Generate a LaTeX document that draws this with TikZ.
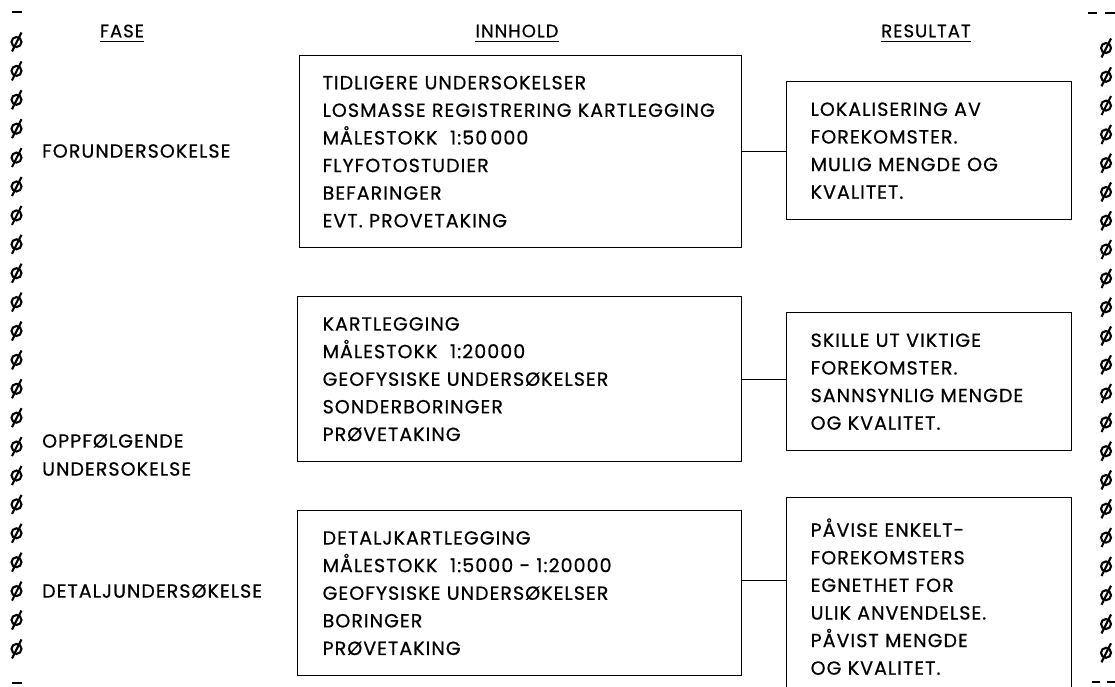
\documentclass[tikz,border=0pt]{standalone}
\usepackage{fontspec}
\setmainfont{Poppins}[LetterSpace=5.6, FakeBold=0.6]
\begin{document}
\begin{tikzpicture}[x=1pt,y=-1pt,
  every node/.style={font=\fontsize{19}{27.6}\selectfont, inner sep=0pt},
  box/.style={draw, line width=1.3pt, align=left, anchor=north west, inner xsep=24pt, inner ysep=0pt},
  head/.style={anchor=center, font=\fontsize{18}{22}\selectfont},
  lbl/.style={anchor=west, align=left},
  conn/.style={line width=1.3pt},
  phi/.style={line width=2.1pt},
  edgemark/.style={line width=2.2pt}]
\clip (0,0) rectangle (1115,687);
\fill[white] (0,0) rectangle (1115,687);

% headers
\node[head] (hf) at (122,31) {FASE};
\node[head] (hi) at (517,31) {INNHOLD};
\node[head] (hr) at (926,31) {RESULTAT};
\foreach \h in {hf,hi,hr} \draw[line width=1.1pt] ([yshift=-4pt]\h.south west) -- ([yshift=-4pt]\h.south east);

% phase labels
\node[lbl] (p1) at (42,151) {FORUNDERSOKELSE};
\node[lbl] (p2) at (42,441) {OPPFØLGENDE};
\node[lbl] (p3) at (42,469) {UNDERSOKELSE};
\node[lbl] (p4) at (42,591) {DETALJUNDERSØKELSE};

% content boxes
\node[box, inner xsep=23pt, text width=396pt, minimum height=192pt] (b1) at (299,55)
  {TIDLIGERE UNDERSOKELSER\\LOSMASSE REGISTRERING KARTLEGGING\\MÅLESTOKK \ 1:50\,000\\FLYFOTOSTUDIER\\BEFARINGER\\EVT. PROVETAKING};
\node[box, inner xsep=25pt, text width=394pt, minimum height=165pt] (b2) at (297,296)
  {KARTLEGGING\\MÅLESTOKK \ 1:20000\\GEOFYSISKE UNDERSØKELSER\\SONDERBORINGER\\PRØVETAKING};
\node[box, inner xsep=25pt, text width=394pt, minimum height=165pt] (b3) at (297,510)
  {DETALJKARTLEGGING\\MÅLESTOKK \ 1:5000 - 1:20000\\GEOFYSISKE UNDERSØKELSER\\BORINGER\\PRØVETAKING};

% result boxes
\node[box, text width=237pt, minimum height=138pt] (r1) at (786,81)
  {LOKALISERING AV\\FOREKOMSTER.\\MULIG MENGDE OG\\KVALITET.};
\node[box, text width=237pt, minimum height=138pt] (r2) at (786,312)
  {SKILLE UT VIKTIGE\\FOREKOMSTER.\\SANNSYNLIG MENGDE\\OG KVALITET.};
\node[box, text width=237pt, minimum height=198pt] (r3) at (786,497)
  {PÅVISE ENKELT-\\FOREKOMSTERS\\EGNETHET FOR\\ULIK ANVENDELSE.\\PÅVIST MENGDE\\OG KVALITET.};

% connectors
\draw[conn] (b1.east) -- (b1.east -| r1.west);
\draw[conn] (b2.east) -- (b2.east -| r2.west);
\draw[conn] ([yshift=12.5pt]b3.east) -- ([yshift=12.5pt]b3.east -| r3.west);

% margin marks
\foreach \k in {0,...,21} {
  \draw[phi] (16.5,42+28.9*\k) circle (5pt);
  \draw[phi] (12,51.5+28.9*\k) -- (21.5,32.5+28.9*\k);
}
\foreach \k in {0,...,21} {
  \draw[phi] (1106,48+28.8*\k) circle (5pt);
  \draw[phi] (1101.5,57.5+28.8*\k) -- (1111,38.5+28.8*\k);
}
\draw[edgemark] (12,12) -- (22,12);
\draw[edgemark] (1088,13) -- (1097,13);
\draw[edgemark] (1105,13) -- (1115,13);
\draw[edgemark] (12,683) -- (22,683);
\draw[edgemark] (1092,682) -- (1100,682);
\draw[edgemark] (1107,682) -- (1115,682);
\end{tikzpicture}
\end{document}
